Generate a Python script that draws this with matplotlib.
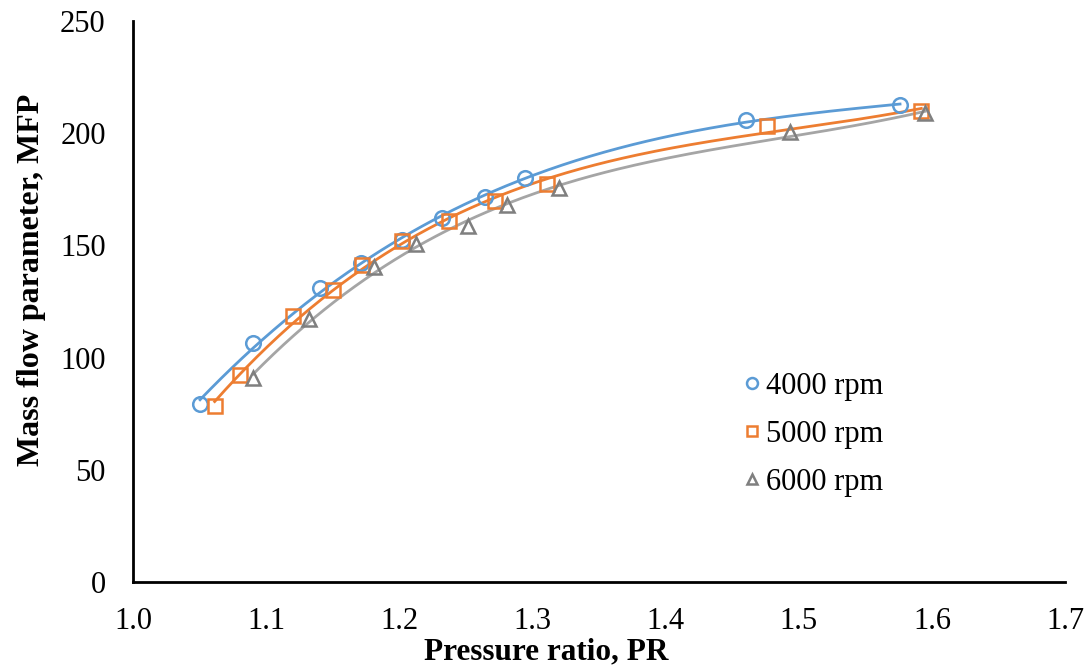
import numpy as np
import matplotlib
matplotlib.use('Agg')
import matplotlib.pyplot as plt

plt.rcParams['font.family'] = ['Liberation Serif', 'DejaVu Serif']

# pressure ratio / mass flow parameter
pr_4000 = [1.050, 1.090, 1.140, 1.171, 1.202, 1.232, 1.264, 1.294, 1.460, 1.576]
mfp_4000 = [79.3, 106.4, 130.9, 142.0, 152.4, 162.1, 171.7, 180.2, 205.9, 212.6]

pr_5000 = [1.061, 1.080, 1.120, 1.150, 1.172, 1.202, 1.237, 1.272, 1.311, 1.476, 1.592]
mfp_5000 = [78.4, 92.2, 118.5, 130.1, 141.3, 152.0, 160.8, 169.8, 177.2, 203.2, 210.0]

pr_6000 = [1.090, 1.132, 1.181, 1.212, 1.251, 1.281, 1.320, 1.493, 1.595]
mfp_6000 = [90.8, 117.2, 140.2, 150.5, 158.6, 168.0, 175.4, 200.4, 209.0]

labels = ['4000 rpm', '5000 rpm', '6000 rpm']
markers = ['o', 's', '^']
line_colors = ['#5B9BD5', '#ED7D31', '#A5A5A5']
edge_colors = ['#5B9BD5', '#ED7D31', '#7F7F7F']

fig = plt.figure(figsize=(10.88, 6.71), dpi=100)
ax = fig.add_axes([0.1227, 0.1326, 0.8562, 0.8361])

series = [(pr_4000, mfp_4000), (pr_5000, mfp_5000), (pr_6000, mfp_6000)]
for (x, y), lab, m, lc, ec in zip(series, labels, markers, line_colors, edge_colors):
    x = np.array(x)
    y = np.array(y)
    # polynomial trendline, like the spreadsheet one
    coef = np.polyfit(x, y, 3)
    xs = np.linspace(x.min(), x.max(), 200)
    ax.plot(xs, np.polyval(coef, xs), color=lc, lw=2, zorder=2)
    ax.plot(x, y, linestyle='none', marker=m, markersize=10.5, markerfacecolor='none',
            markeredgecolor=ec, markeredgewidth=1.8, label=lab, zorder=3)

ax.set_xlim(1.0, 1.7)
ax.set_ylim(0, 250)
xt = np.arange(1.0, 1.71, 0.1)
ax.set_xticks(xt)
ax.set_xticklabels(['%.1f' % v for v in xt])
ax.set_yticks(range(0, 251, 50))
ax.tick_params(length=0, labelsize=22)
ax.tick_params(axis='y', pad=20)
ax.tick_params(axis='x', pad=18)
for s in ['top', 'right']:
    ax.spines[s].set_visible(False)
for s in ['left', 'bottom']:
    ax.spines[s].set_linewidth(2)

ax.set_xlabel('Pressure ratio, PR', fontsize=22.5, fontweight='bold')
ax.set_ylabel('Mass flow parameter, MFP', fontsize=23, fontweight='bold')
ax.xaxis.set_label_coords(0.443, -0.098)
ax.yaxis.set_label_coords(-0.094, 0.538)

leg = ax.legend(loc='upper left', bbox_to_anchor=(0.641, 0.397), frameon=False, fontsize=22,
                handlelength=0.6, handletextpad=0.15, labelspacing=0.63, markerscale=0.75,
                borderaxespad=0)

fig.savefig('out.png', dpi=100)
